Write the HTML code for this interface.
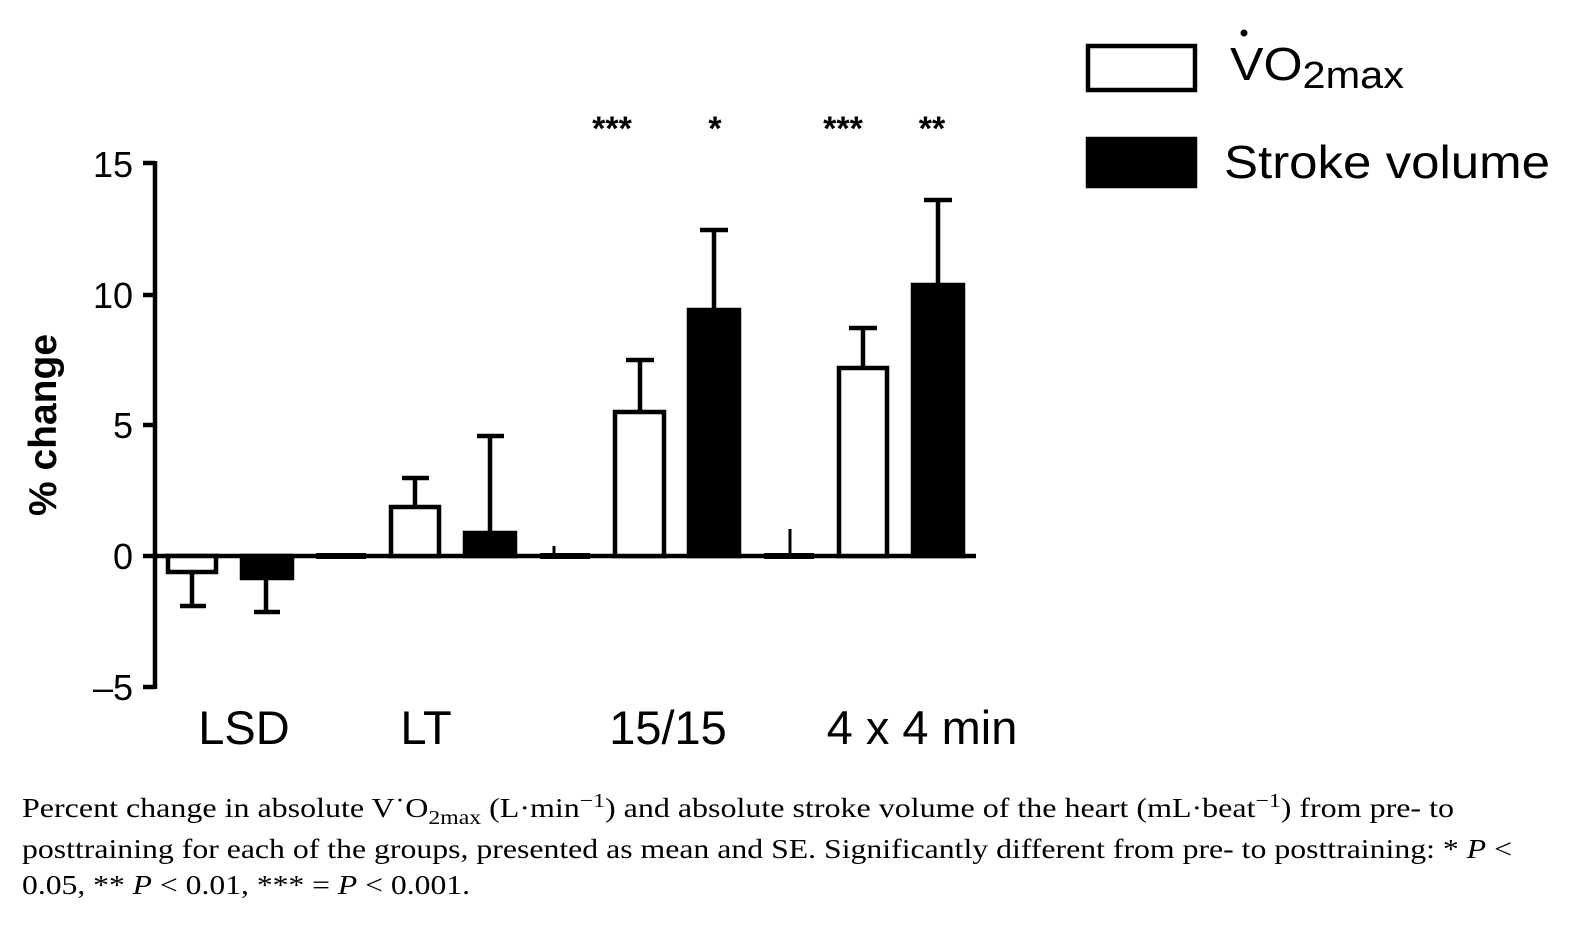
<!DOCTYPE html>
<html><head><style>body{margin:0;background:#fff}svg{display:block}</style></head><body>
<svg width="1578" height="938" xmlns="http://www.w3.org/2000/svg">
<g stroke="#000" stroke-width="4.5" fill="none">
<line x1="155" y1="161" x2="155" y2="689"/>
<line x1="143" y1="163" x2="155" y2="163"/>
<line x1="143" y1="295" x2="155" y2="295"/>
<line x1="143" y1="425" x2="155" y2="425"/>
<line x1="143" y1="556" x2="155" y2="556"/>
<line x1="143" y1="687" x2="155" y2="687"/>
<line x1="155" y1="556" x2="976" y2="556"/>
<rect x="168" y="556" width="48" height="16" fill="#fff"/>
<line x1="192" y1="572" x2="192" y2="606"/><line x1="180" y1="606" x2="206" y2="606"/>
<rect x="242" y="556" width="50" height="22" fill="#000"/>
<line x1="266" y1="578" x2="266" y2="612"/><line x1="254" y1="612" x2="280" y2="612"/>
<line x1="316" y1="556" x2="366" y2="556" stroke-width="6"/>
<line x1="415" y1="506" x2="415" y2="478"/><line x1="402" y1="478" x2="429" y2="478"/>
<rect x="391" y="507" width="48" height="49" fill="#fff"/>
<line x1="490" y1="532" x2="490" y2="436"/><line x1="477" y1="436" x2="504" y2="436"/>
<rect x="465" y="533" width="50" height="23" fill="#000"/>
<line x1="540" y1="556" x2="590" y2="556" stroke-width="6"/>
<line x1="554" y1="556" x2="554" y2="546" stroke-width="3"/>
<line x1="640" y1="411" x2="640" y2="360"/><line x1="626" y1="360" x2="654" y2="360"/>
<rect x="615" y="412" width="49" height="144" fill="#fff"/>
<line x1="714" y1="309" x2="714" y2="230"/><line x1="700" y1="230" x2="728" y2="230"/>
<rect x="689" y="310" width="50" height="246" fill="#000"/>
<line x1="764" y1="556" x2="814" y2="556" stroke-width="6"/>
<line x1="790" y1="556" x2="790" y2="529" stroke-width="3"/>
<line x1="863" y1="367" x2="863" y2="328"/><line x1="849" y1="328" x2="877" y2="328"/>
<rect x="839" y="368" width="48" height="188" fill="#fff"/>
<line x1="938" y1="284" x2="938" y2="200"/><line x1="924" y1="200" x2="952" y2="200"/>
<rect x="913" y="285" width="50" height="271" fill="#000"/>
<rect x="1088" y="46" width="107" height="44" fill="#fff"/>
<rect x="1088" y="139" width="107" height="47" fill="#000"/>
</g>
<g font-family="Liberation Sans, sans-serif" fill="#000">
<g font-size="36" text-anchor="end">
<text x="133" y="177">15</text><text x="133" y="308">10</text><text x="133" y="438">5</text>
<text x="133" y="569">0</text><text x="133" y="700">–5</text>
</g>
<text transform="translate(56,425) rotate(-90)" font-size="39" font-weight="bold" text-anchor="middle">% change</text>
<g font-size="47" text-anchor="middle">
<text x="244" y="744">LSD</text><text x="426" y="744">LT</text>
<text x="668" y="744">15/15</text><text x="922" y="744">4 x 4 min</text>
</g>
<g font-size="34" font-weight="bold" text-anchor="middle">
<text x="612" y="140">***</text><text x="715" y="140">*</text>
<text x="843" y="140">***</text><text x="932" y="140">**</text>
</g>
<text x="1230" y="80" font-size="46" textLength="174" lengthAdjust="spacingAndGlyphs">VO<tspan font-size="38" dy="8">2max</tspan></text>
<circle cx="1244" cy="33" r="3.5"/>
<text x="1224" y="178" font-size="46" textLength="326" lengthAdjust="spacingAndGlyphs">Stroke volume</text>
</g>
<g font-family="Liberation Serif, serif" font-size="27" fill="#000">
<text x="22" y="817" textLength="1432" lengthAdjust="spacingAndGlyphs">Percent change in absolute V˙O<tspan font-size="20" dy="7">2max</tspan><tspan dy="-7"> (L·min</tspan><tspan font-size="20" dy="-10">−1</tspan><tspan dy="10">) and absolute stroke volume of the heart (mL·beat</tspan><tspan font-size="20" dy="-10">−1</tspan><tspan dy="10">) from pre- to</tspan></text>
<text x="22" y="858" textLength="1490" lengthAdjust="spacingAndGlyphs">posttraining for each of the groups, presented as mean and SE. Significantly different from pre- to posttraining: * <tspan font-style="italic">P</tspan> &lt;</text>
<text x="22" y="894" textLength="448" lengthAdjust="spacingAndGlyphs">0.05, ** <tspan font-style="italic">P</tspan> &lt; 0.01, *** = <tspan font-style="italic">P</tspan> &lt; 0.001.</text>
</g>
</svg>
</body></html>
